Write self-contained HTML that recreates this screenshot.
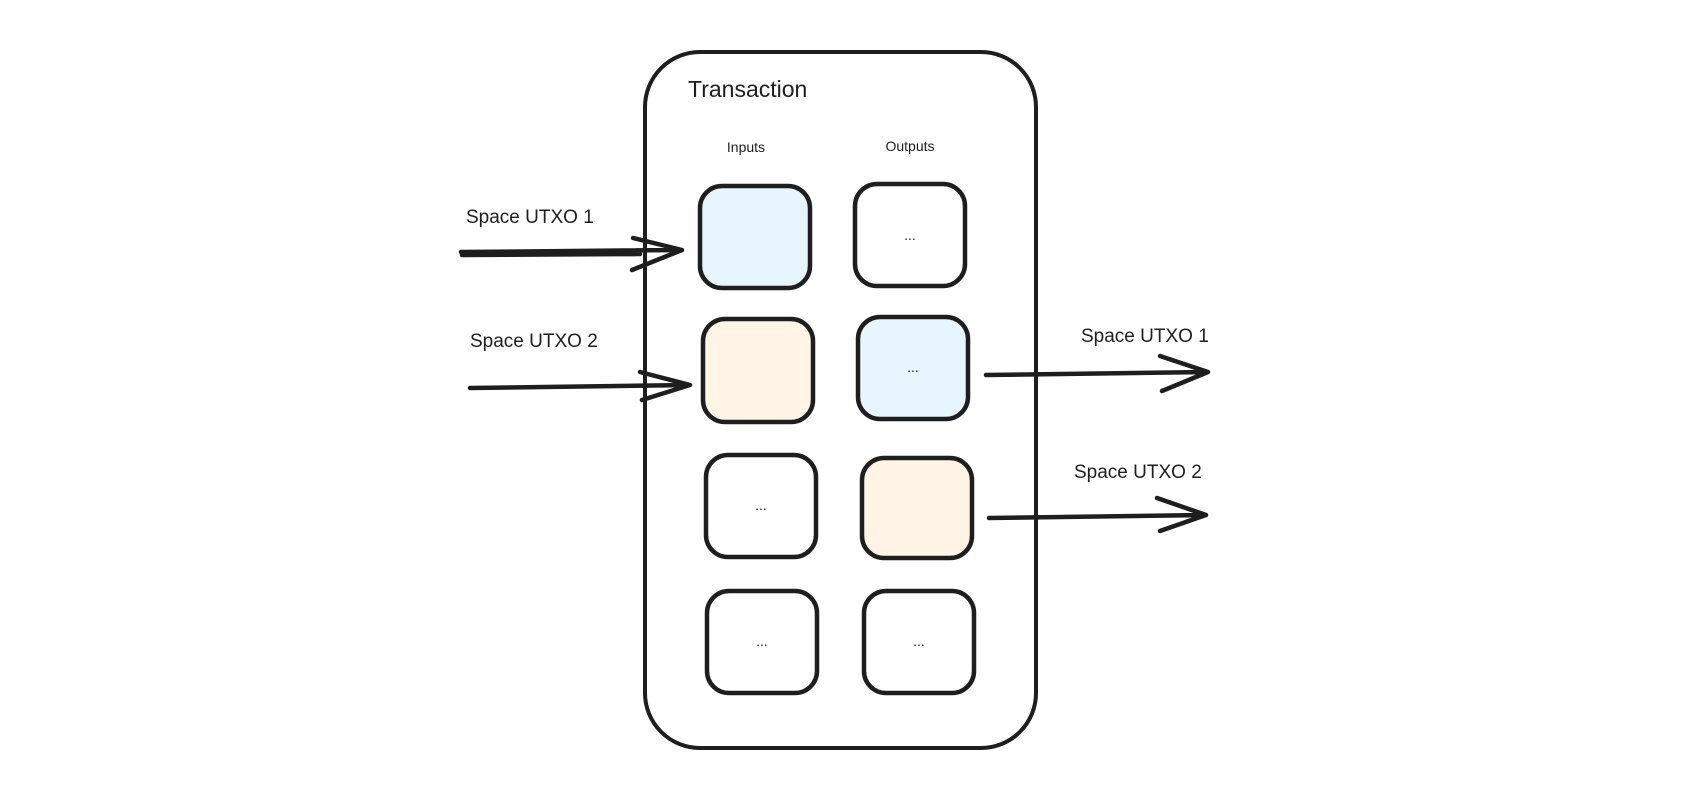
<!DOCTYPE html>
<html><head><meta charset="utf-8"><style>
html,body{margin:0;padding:0;background:#fff;}
svg{display:block}
text{font-family:"Liberation Sans",sans-serif;fill:#1e1e1e}
</style></head><body>
<svg width="1682" height="799" viewBox="0 0 1682 799" xmlns="http://www.w3.org/2000/svg">
<rect width="1682" height="799" fill="#fff"/>
<g fill="none" stroke="#1e1e1e" stroke-width="4.5" stroke-linecap="round" stroke-linejoin="round">
<rect x="645" y="52" width="391" height="696" rx="55" stroke-width="4"/>
<rect x="700" y="186" width="110" height="102" rx="22" fill="#e7f5ff"/>
<rect x="703" y="319" width="110" height="103" rx="22" fill="#fff4e6"/>
<rect x="706" y="455" width="110" height="102" rx="22" fill="#fff"/>
<rect x="707" y="591" width="110" height="102" rx="22" fill="#fff"/>
<rect x="855" y="184" width="110" height="102" rx="22" fill="#fff"/>
<rect x="858" y="317" width="110" height="102" rx="22" fill="#e7f5ff"/>
<rect x="862" y="458" width="110" height="100" rx="22" fill="#fff4e6"/>
<rect x="864" y="591" width="110" height="102" rx="22" fill="#fff"/>
<path d="M461 252 L682 250 M462 255 L640 254 M633 238 L682 250 L632 270"/>
<path d="M470 388 L690 385 M640 372 L690 385 L642 400"/>
<path d="M986 375 L1208 372 M1160 356 L1208 372 L1162 391"/>
<path d="M989 518 L1206 515 M1157 498 L1206 515 L1160 531"/>
</g>
<text x="688" y="97" font-size="23">Transaction</text>
<text x="746" y="152" font-size="14" text-anchor="middle">Inputs</text>
<text x="910" y="151" font-size="14" text-anchor="middle">Outputs</text>
<g font-size="14" text-anchor="middle">
<text x="910" y="240">...</text>
<text x="913" y="372">...</text>
<text x="761" y="510">...</text>
<text x="762" y="646">...</text>
<text x="919" y="646">...</text>
</g>
<g font-size="19">
<text x="466" y="223">Space UTXO 1</text>
<text x="470" y="347">Space UTXO 2</text>
<text x="1081" y="342">Space UTXO 1</text>
<text x="1074" y="478">Space UTXO 2</text>
</g>
</svg>
</body></html>
